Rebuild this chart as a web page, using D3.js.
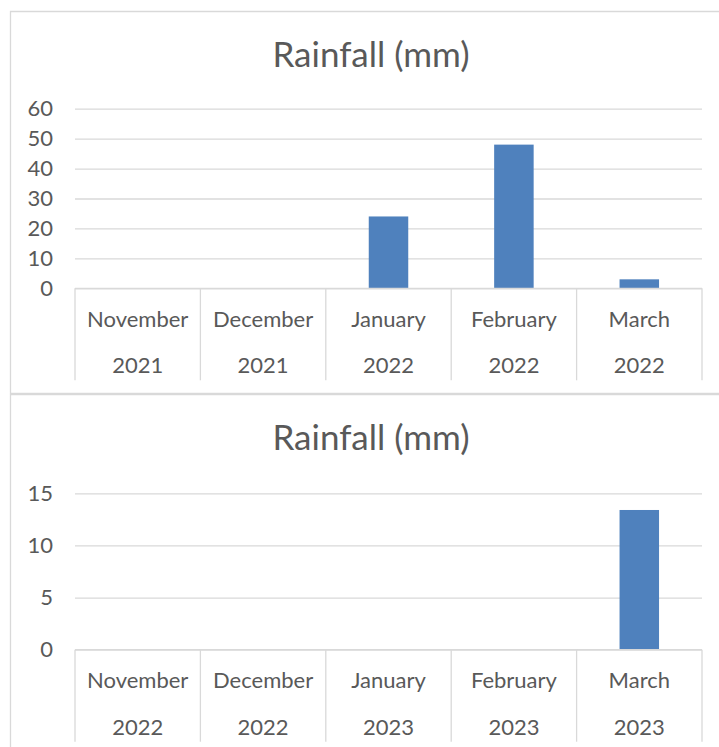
<!DOCTYPE html>
<head>
  <meta charset="utf-8">
  <script src="https://d3js.org/d3.v7.min.js"></script>
  <style>
    body { margin:0; background:#fff; overflow:hidden; }
    text { font-family: Lato, "Open Sans", sans-serif; fill:#595959; }
  </style>
</head>

<body>
  <script>
    // data
    var months = ["November", "December", "January", "February", "March"];
    var years1 = ["2021", "2021", "2022", "2022", "2022"];
    var rain1 = [0, 0, 24, 48, 3];
    var ticks1 = [0, 10, 20, 30, 40, 50, 60];

    var years2 = ["2022", "2022", "2023", "2023", "2023"];
    var rain2 = [0, 0, 0, 0, 13.4];
    var ticks2 = [0, 5, 10, 15];

    var title = "Rainfall (mm)";

    var svg = d3.select("body").append("svg")
      .attr("width", 719)
      .attr("height", 747)
      .style("display", "block")

    function drawChart(top, years, values, ticks, plotTop, plotBottom) {
      var g = svg.append("g").attr("transform", "translate(0," + top + ")")

      // chart frame, open on the right (it runs past the window)
      g.append("path")
        .attr("d", "M760,0.5 H10.5 V382.5 H760")
        .style("fill", "none").style("stroke", "#d9d9d9").style("stroke-width", 1.3)

      g.append("text")
        .attr("x", 371).attr("y", 56)
        .attr("text-anchor", "middle")
        .style("font-size", "35px")
        .text(title)

      var cats = months.map(function(m, i) { return i; })
      var x = d3.scaleBand().domain(cats).range([75, 702])
      var y = d3.scaleLinear()
        .domain([0, d3.max(ticks)])
        .range([plotBottom, plotTop])

      // gridlines
      g.append("g")
        .attr("transform", "translate(75,0)")
        .call(d3.axisLeft(y).tickValues(ticks).tickSize(-627).tickFormat(""))
        .call(function(a) {
          a.select(".domain").remove()
          a.selectAll("line").style("stroke", "#d9d9d9").style("stroke-width", 1.3)
        })

      // y labels
      g.append("g")
        .attr("transform", "translate(53,0)")
        .call(d3.axisLeft(y).tickValues(ticks).tickSize(0).tickPadding(0))
        .call(function(a) {
          a.select(".domain").remove()
          a.selectAll("text").style("font-size", "22px").style("fill", "#595959")
            .style("font-family", "Lato, sans-serif")
        })

      // bars
      var bw = x.bandwidth() * 0.315
      g.selectAll("rect.bar").data(values).enter()
        .append("rect")
        .attr("class", "bar")
        .attr("x", function(d, i) { return x(i) + (x.bandwidth() - bw) / 2; })
        .attr("y", function(d) { return y(d); })
        .attr("width", bw)
        .attr("height", function(d) { return y(0) - y(d); })
        .style("fill", "#4f81bd")

      // category axis: baseline and dividers
      g.append("line")
        .attr("x1", 75).attr("x2", 702)
        .attr("y1", y(0)).attr("y2", y(0))
        .style("stroke", "#d9d9d9").style("stroke-width", 1.3)

      var edges = cats.map(function(i) { return x(i); }).concat([x.range()[1]])
      g.selectAll("line.div").data(edges).enter()
        .append("line")
        .attr("class", "div")
        .attr("x1", function(d) { return d; }).attr("x2", function(d) { return d; })
        .attr("y1", y(0)).attr("y2", y(0) + 92)
        .style("stroke", "#d9d9d9").style("stroke-width", 1.3)

      g.selectAll("text.month").data(months).enter()
        .append("text")
        .attr("class", "month")
        .attr("x", function(d, i) { return x(i) + x.bandwidth() / 2; })
        .attr("y", y(0) + 38.5)
        .attr("text-anchor", "middle")
        .style("font-size", "22px")
        .text(function(d) { return d; })

      g.selectAll("text.year").data(years).enter()
        .append("text")
        .attr("class", "year")
        .attr("x", function(d, i) { return x(i) + x.bandwidth() / 2; })
        .attr("y", y(0) + 85)
        .attr("text-anchor", "middle")
        .style("font-size", "22px")
        .text(function(d) { return d; })
    }

    drawChart(11, years1, rain1, ticks1, 108.7 - 11, 288.3 - 11)
    drawChart(394, years2, rain2, ticks2, 493.3 - 394, 649.7 - 394)
  </script>
</body>
